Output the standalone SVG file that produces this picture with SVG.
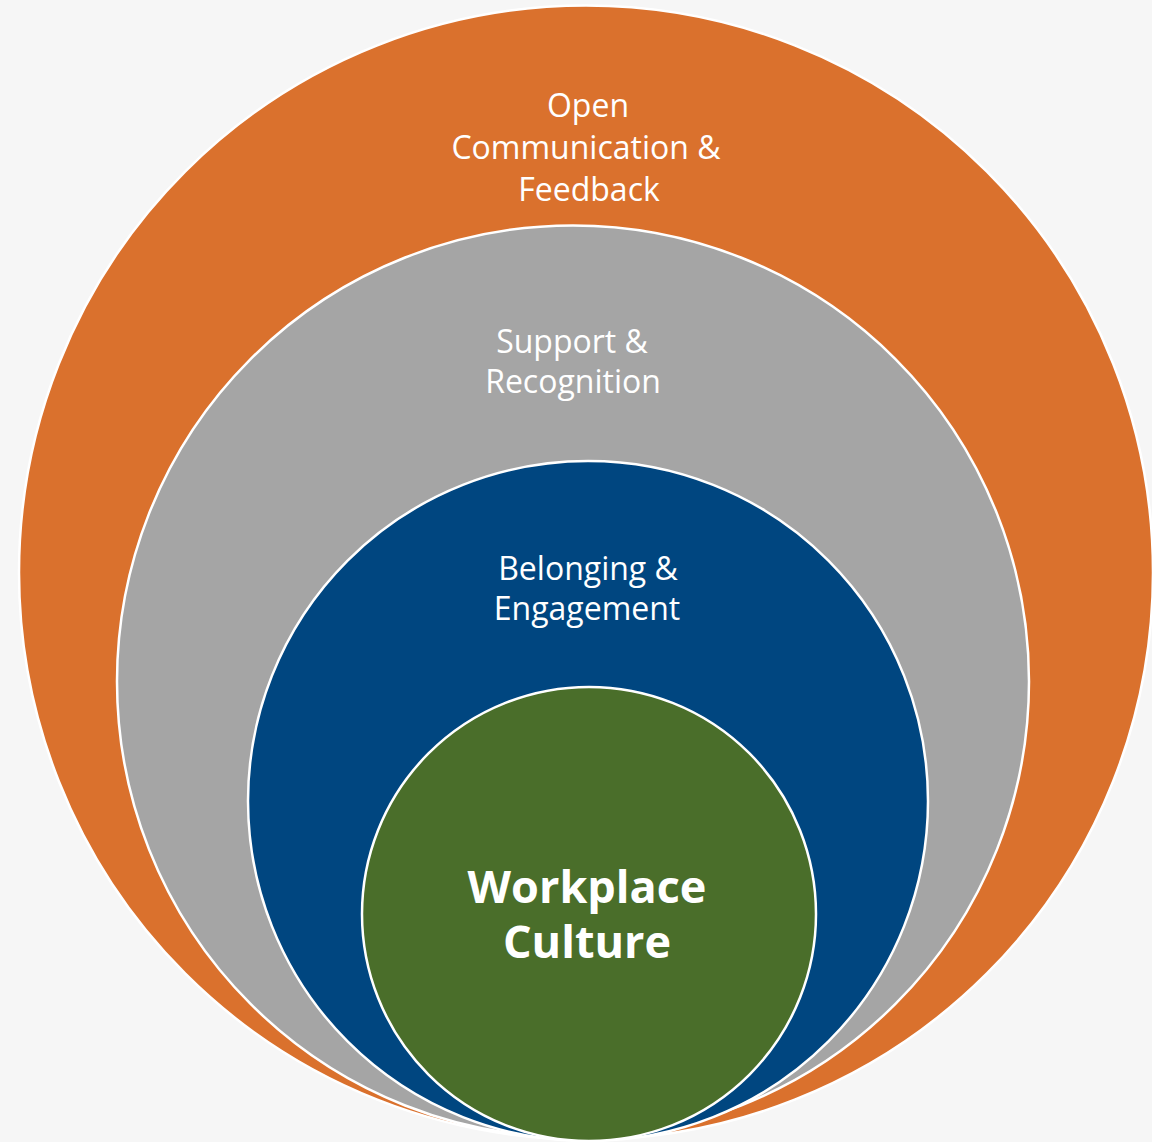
<svg xmlns="http://www.w3.org/2000/svg" width="1152" height="1142" viewBox="0 0 1152 1142">
  <style>
    .ring { stroke: #ffffff; stroke-width: 2.5; }
    .lbl { font-family: "Open Sans", "Noto Sans", "Liberation Sans", sans-serif; font-size: 32px; fill: #ffffff; text-anchor: middle; }
    .core { font-family: "Open Sans", "Noto Sans", "Liberation Sans", sans-serif; font-size: 45px; font-weight: bold; fill: #ffffff; text-anchor: middle; }
  </style>
  <rect width="1152" height="1142" fill="#f6f6f6"/>

  <!-- nested layers, all resting on the same bottom point -->
  <g id="layer-communication">
    <circle class="ring" cx="586" cy="572.5" r="567" fill="#da712d"/>
    <text class="lbl" x="588" y="117">Open</text>
    <text class="lbl" x="586" y="159">Communication &amp;</text>
    <text class="lbl" x="589" y="201">Feedback</text>
  </g>

  <g id="layer-support">
    <circle class="ring" cx="573" cy="681.5" r="456" fill="#a5a5a5"/>
    <text class="lbl" x="572" y="353">Support &amp;</text>
    <text class="lbl" x="573" y="393">Recognition</text>
  </g>

  <g id="layer-belonging">
    <circle class="ring" cx="588" cy="801" r="340" fill="#004680"/>
    <text class="lbl" x="588" y="580">Belonging &amp;</text>
    <text class="lbl" x="587" y="620">Engagement</text>
  </g>

  <g id="layer-core">
    <circle class="ring" cx="589" cy="914" r="227" fill="#4a6e2a"/>
    <text class="core" x="587" y="903">Workplace</text>
    <text class="core" x="587" y="958">Culture</text>
  </g>

  <g id="connectors"/>
</svg>
